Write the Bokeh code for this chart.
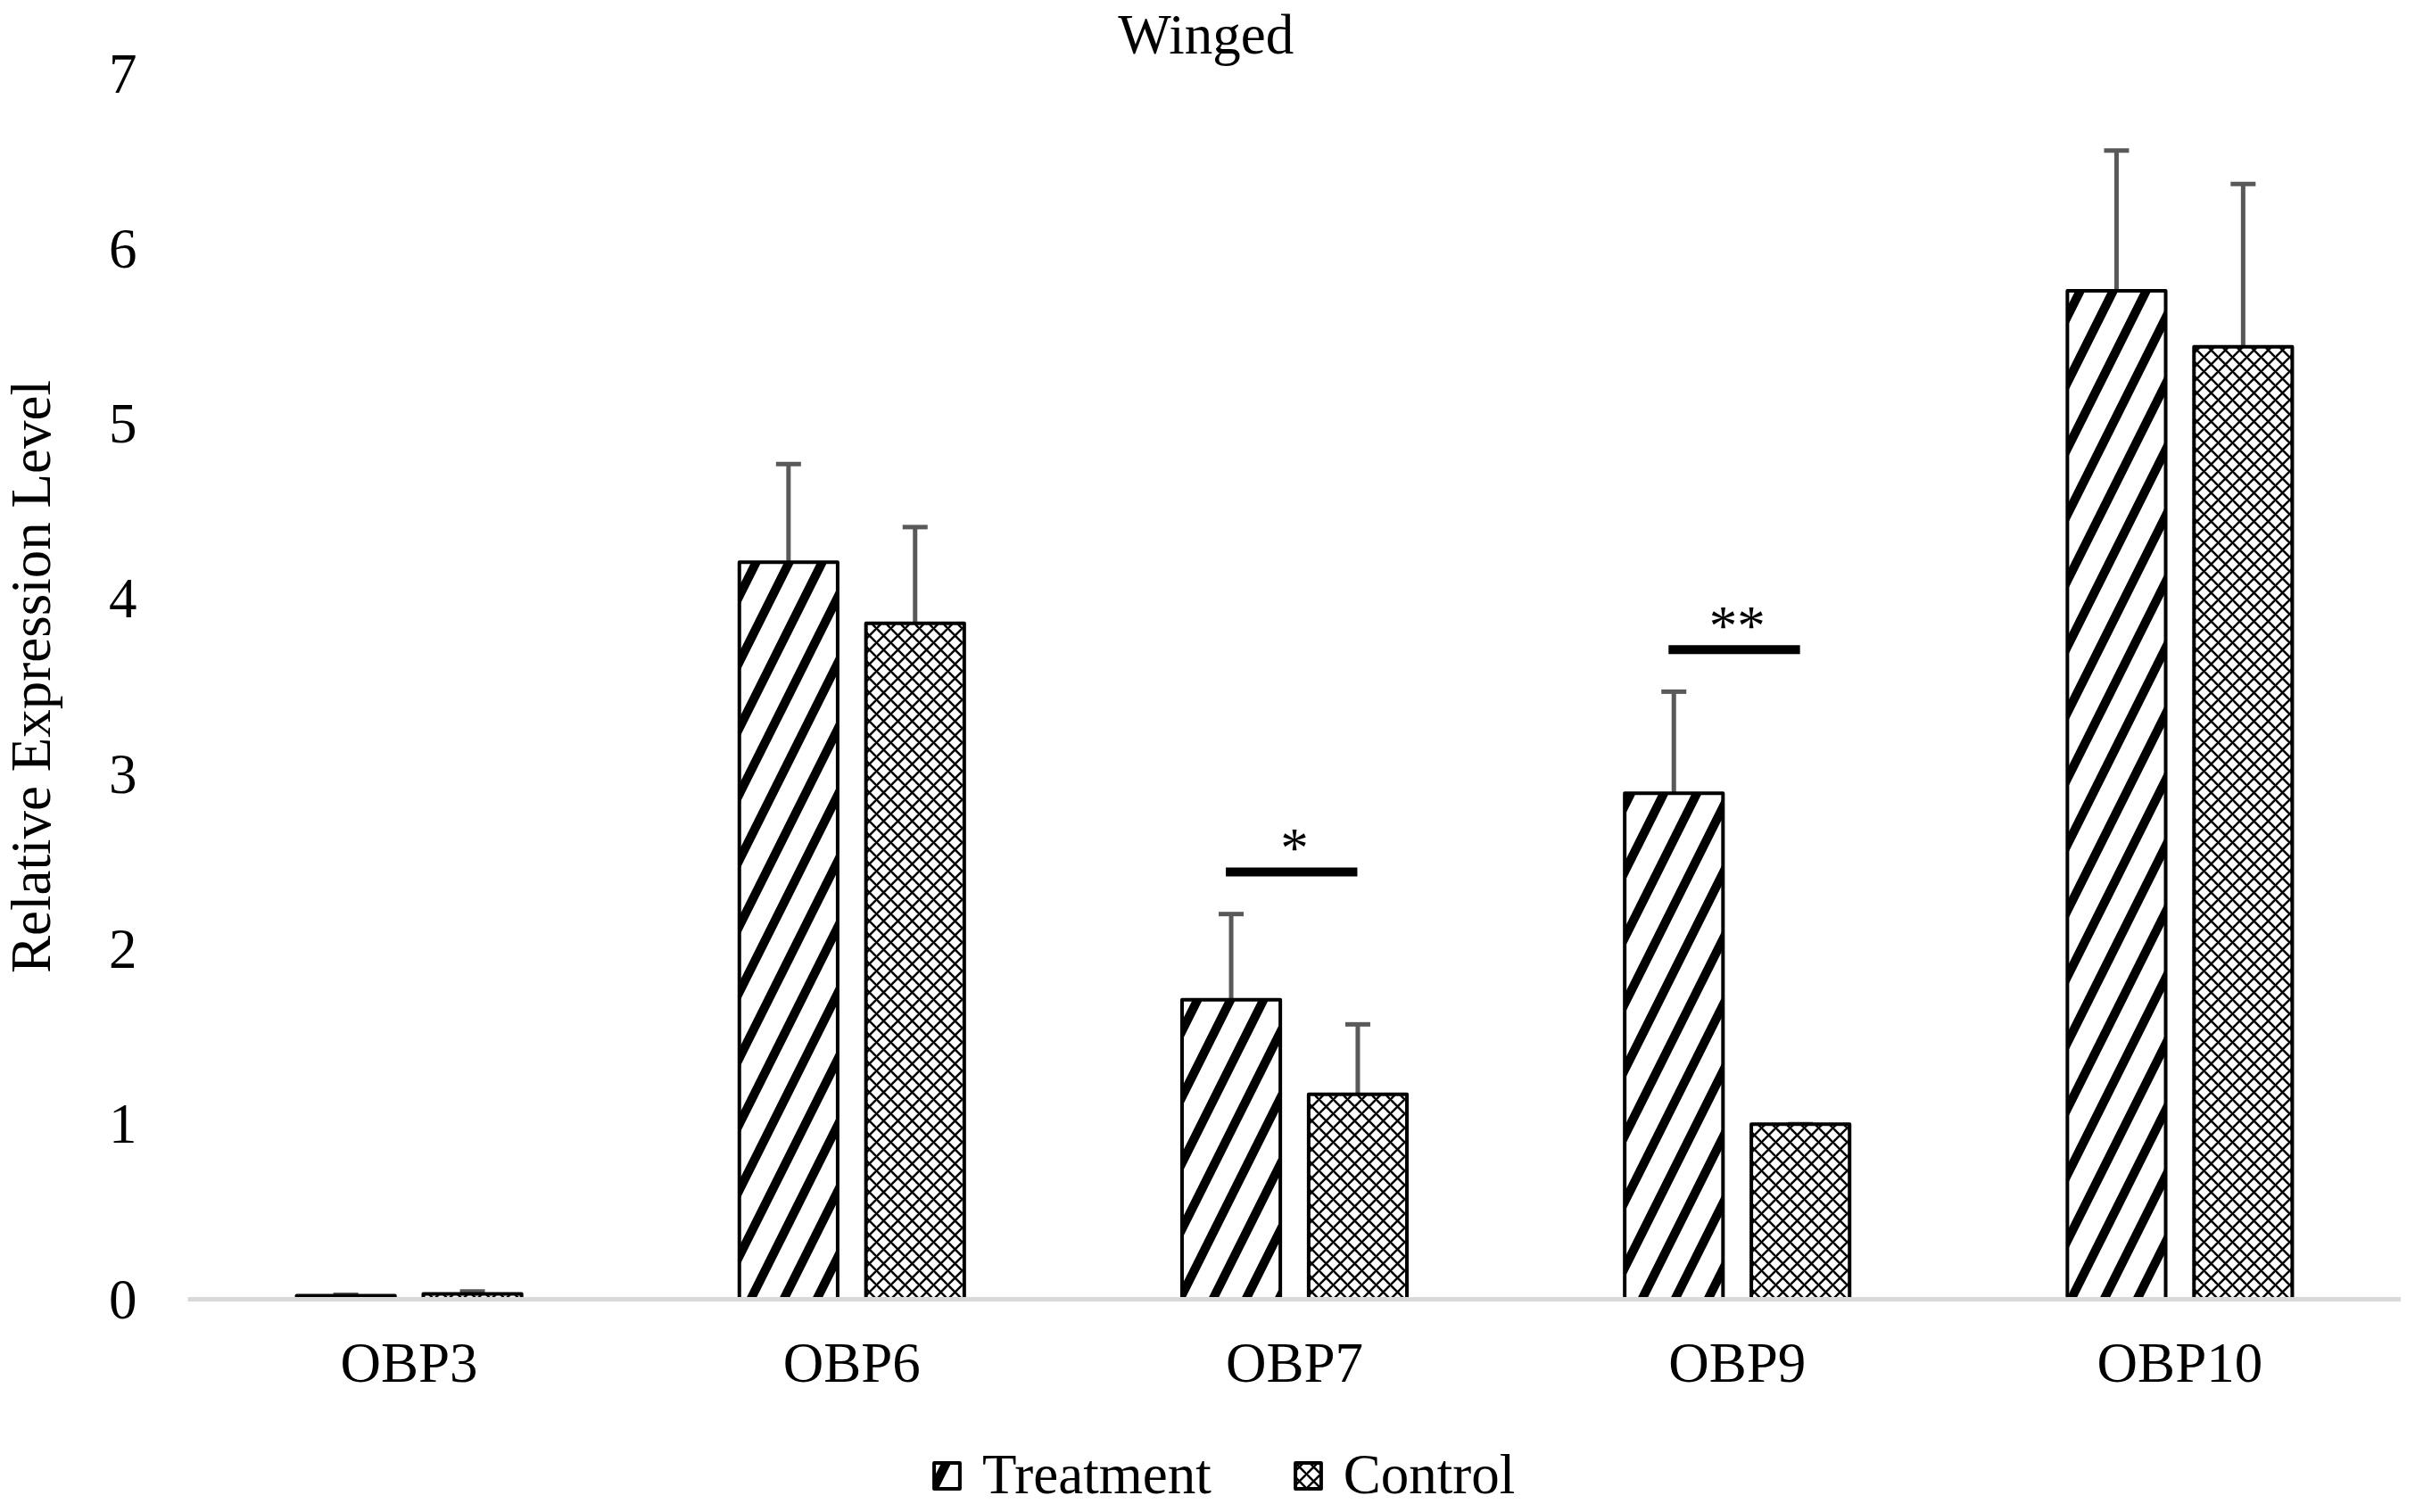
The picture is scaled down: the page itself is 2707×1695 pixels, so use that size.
import math
from bokeh.plotting import figure
from bokeh.layouts import column, row
from bokeh.models import (FactorRange, Range1d, Whisker, TeeHead, ColumnDataSource,
                          Legend, LegendItem, Label, FixedTicker)
from bokeh.transform import dodge
from bokeh.core.properties import value
from bokeh.embed import file_html
from bokeh.resources import INLINE

# ---- data ----
genes = ["OBP3", "OBP6", "OBP7", "OBP9", "OBP10"]
treatment = [0.02, 4.21, 1.71, 2.89, 5.76]
treatment_err = [0.005, 0.56, 0.49, 0.58, 0.80]
control = [0.03, 3.86, 1.17, 1.00, 5.44]
control_err = [0.015, 0.55, 0.40, 0.0, 0.93]
y_ticks = [0, 1, 2, 3, 4, 5, 6, 7]
sig_genes = ["OBP7", "OBP9"]
sig_level = [2.44, 3.71]
sig_marks = ["*", "**"]
title_text = "Winged"
y_label = "Relative Expression Level"
series_names = ["Treatment", "Control"]

FONT = "Liberation Serif"
FS = "63px"
W = 2691
W_LAB = 70
H_MAIN, H_LEG = 1590, 97
FRAME_BOTTOM = 1456
PX_PER_UNIT = (1456 - 82) / 7
OFF = 0.143
BW = 0.222

T_STYLE = dict(fill_color="white", line_color="black", line_width=4, line_join="round",
               hatch_pattern="right_diagonal_line", hatch_scale=74, hatch_weight=10,
               hatch_color="black")
C_STYLE = dict(fill_color="white", line_color="black", line_width=4, line_join="round",
               hatch_pattern="diagonal_cross", hatch_scale=16, hatch_weight=2.5,
               hatch_color="black")

src = ColumnDataSource(dict(
    gene=genes,
    t=treatment,
    t_up=[a + b for a, b in zip(treatment, treatment_err)],
    c=control,
    c_up=[a + b for a, b in zip(control, control_err)],
))


def blank(fig):
    fig.axis.visible = False
    fig.grid.visible = False
    fig.outline_line_color = None
    fig.background_fill_color = "white"
    fig.border_fill_color = "white"


# ---- main chart ----
p = figure(width=W - W_LAB, height=H_MAIN,
           x_range=FactorRange(factors=genes, range_padding=0),
           y_range=Range1d(0, FRAME_BOTTOM / PX_PER_UNIT),
           output_backend="svg", toolbar_location=None,
           min_border_left=210 - W_LAB, min_border_right=0,
           min_border_top=0, min_border_bottom=H_MAIN - FRAME_BOTTOM)
p.background_fill_color = "white"
p.border_fill_color = "white"
p.outline_line_color = None
p.xgrid.visible = False
p.ygrid.visible = False

for lo, up, off in [("t", "t_up", -OFF), ("c", "c_up", OFF)]:
    w = Whisker(base=dodge("gene", off, range=p.x_range), lower=lo, upper=up,
                source=src, dimension="height", line_color="#595959", line_width=5,
                upper_head=TeeHead(size=28, line_color="#595959", line_width=5),
                lower_head=None, level="underlay")
    p.add_layout(w)

p.vbar(x=dodge("gene", -OFF, range=p.x_range), top="t", width=BW, source=src, **T_STYLE)
p.vbar(x=dodge("gene", OFF, range=p.x_range), top="c", width=BW, source=src, **C_STYLE)

sig_src = ColumnDataSource(dict(gene=sig_genes, y=sig_level, mark=sig_marks,
                                ys=[v + 0.135 for v in sig_level]))
p.segment(x0=dodge("gene", -0.155, range=p.x_range), x1=dodge("gene", 0.142, range=p.x_range),
          y0="y", y1="y", line_width=10, line_color="black", source=sig_src)
p.text(x="gene", y="ys", text="mark", text_font=value(FONT), text_font_size=FS,
       text_align="center", text_baseline="alphabetic", text_color="black", source=sig_src)

# title
p.add_layout(Label(x=2.300, y=(FRAME_BOTTOM - 38) / PX_PER_UNIT, text=title_text,
                   text_font=FONT, text_font_size=FS, text_align="center",
                   text_baseline="alphabetic", text_color="black"))

xa = p.xaxis[0]
xa.axis_line_color = "#d9d9d9"
xa.axis_line_width = 5
xa.major_tick_line_color = None
xa.minor_tick_line_color = None
xa.major_tick_out = 0
xa.major_tick_in = 0
xa.major_label_text_font = FONT
xa.major_label_text_font_size = FS
xa.major_label_text_color = "black"
xa.major_label_standoff = 36

ya = p.yaxis[0]
ya.ticker = FixedTicker(ticks=y_ticks)
ya.axis_line_color = None
ya.major_tick_line_color = None
ya.minor_tick_line_color = None
ya.major_tick_out = 0
ya.major_tick_in = 0
ya.major_label_text_font = FONT
ya.major_label_text_font_size = FS
ya.major_label_text_color = "black"
ya.major_label_standoff = 57

# ---- y-axis title strip (its frame is aligned with the chart frame) ----
py = figure(width=W_LAB, height=H_MAIN, x_range=Range1d(0, W_LAB),
            y_range=Range1d(0, FRAME_BOTTOM),
            output_backend="svg", toolbar_location=None, min_border=0)
blank(py)
py.add_layout(Label(x=34.5, y=FRAME_BOTTOM - 758, text=y_label, angle=math.pi / 2,
                    text_font=FONT, text_font_size=FS, text_align="center",
                    text_baseline="alphabetic", text_color="black"))

# ---- legend strip (hidden proxy renderers carry the bar styles) ----
pl = figure(width=W, height=H_LEG, x_range=FactorRange(factors=genes, range_padding=0),
            y_range=Range1d(0, 7),
            output_backend="svg", toolbar_location=None, min_border=0)
blank(pl)
lt = pl.vbar(x=dodge("gene", -OFF, range=pl.x_range), top="t", width=BW, source=src,
             visible=False, **T_STYLE)
lc = pl.vbar(x=dodge("gene", OFF, range=pl.x_range), top="c", width=BW, source=src,
             visible=False, **C_STYLE)
legend = Legend(items=[LegendItem(label=series_names[0], renderers=[lt]),
                       LegendItem(label=series_names[1], renderers=[lc])],
                location=(1043, -3), orientation="horizontal",
                glyph_width=36, glyph_height=36, label_standoff=22, spacing=90,
                padding=0, margin=0, border_line_color=None, background_fill_alpha=0,
                inactive_fill_alpha=0,
                label_text_font=FONT, label_text_font_size=FS, label_text_color="black")
pl.add_layout(legend)

layout = column(row(py, p, spacing=0), pl, spacing=0)
open("out.html", "w").write(file_html(layout, INLINE))
